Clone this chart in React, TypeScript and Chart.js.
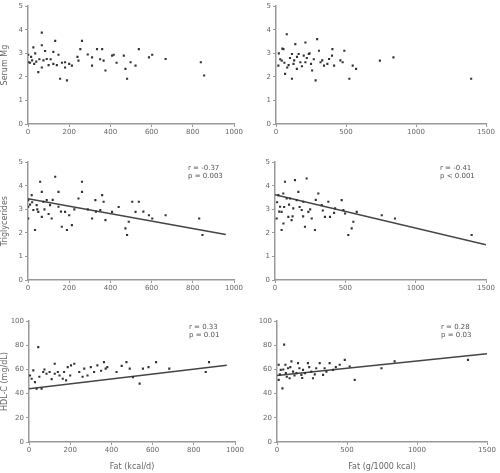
import React, { useEffect, useRef } from "react";
import { Chart, registerables } from "chart.js";
Chart.register(...registerables);

// ---------- data ----------
const yTitleTop = "Serum Mg";
const yTitleMid = "Triglycerides";
const yTitleBot = "HDL-C (mg/dL)";
const xTitleLeft = "Fat (kcal/d)";
const xTitleRight = "Fat (g/1000 kcal)";

const tlPoints = [
  [1, 2.94], [3, 2.62], [26, 3.25], [67, 3.88], [67, 3.34], [50, 2.2], [67, 2.4], [83, 3.1], [91, 2.76], [123, 2.55],
  [132, 3.53], [123, 3.06], [148, 2.94], [156, 1.92], [180, 2.62], [189, 1.85], [180, 2.4], [213, 2.48], [245, 2.69], [254, 3.18],
  [262, 3.53], [311, 2.83], [311, 2.48], [335, 3.18], [360, 3.18], [367, 2.69], [376, 2.27], [408, 2.9], [416, 2.94], [465, 2.9],
  [473, 2.34], [481, 1.92], [498, 2.62], [522, 2.48], [538, 3.18], [587, 2.83], [603, 2.94], [668, 2.76], [839, 2.62], [855, 2.06],
  [10, 2.6], [20, 2.7], [30, 2.55], [40, 2.65], [55, 2.75], [75, 2.7], [100, 2.5], [110, 2.75], [140, 2.5], [165, 2.6],
  [200, 2.55], [240, 2.85], [290, 2.95], [350, 2.75], [430, 2.6], [15, 2.85], [35, 3.0],
];
const trPoints = [
  [17, 2.48], [41, 2.69], [65, 2.13], [77, 3.81], [53, 3.18], [114, 2.97], [114, 1.92], [125, 2.55], [138, 3.39], [149, 2.34],
  [162, 2.97], [174, 2.62], [198, 2.9], [210, 3.46], [210, 2.62], [234, 2.97], [258, 2.27], [283, 1.85], [294, 3.6], [307, 3.11],
  [318, 2.62], [343, 2.48], [367, 2.55], [379, 2.76], [403, 3.18], [415, 2.48], [476, 2.62], [488, 3.11], [524, 1.92], [548, 2.48],
  [572, 2.34], [742, 2.69], [839, 2.83], [1394, 1.92],
  [30, 2.75], [60, 2.6], [90, 2.5], [100, 2.8], [130, 2.7], [150, 2.85], [185, 2.45], [220, 2.8], [250, 2.55], [270, 2.75],
  [330, 2.7], [20, 3.0], [45, 3.2], [80, 2.4], [240, 3.0], [400, 2.9], [460, 2.7],
];
const mlPoints = [
  [1, 3.39], [1, 3.11], [1, 2.61], [18, 3.6], [26, 2.97], [34, 2.12], [42, 3.18], [50, 2.89], [59, 4.17], [67, 3.74],
  [67, 2.68], [75, 3.32], [91, 3.39], [107, 3.18], [115, 2.61], [132, 4.38], [148, 3.74], [148, 3.11], [164, 2.26], [180, 2.89],
  [189, 2.12], [213, 2.33], [245, 3.46], [262, 4.17], [262, 3.74], [311, 2.61], [327, 3.39], [351, 2.97], [360, 3.6], [367, 3.32],
  [376, 2.54], [408, 2.89], [473, 2.19], [481, 1.91], [489, 2.47], [506, 3.32], [522, 2.89], [538, 3.32], [587, 2.75], [603, 2.61],
  [668, 2.75], [831, 2.61], [847, 1.91],
  [10, 3.2], [20, 3.3], [45, 3.0], [80, 3.0], [100, 2.8], [120, 3.4], [160, 2.9], [200, 2.75], [225, 3.0], [290, 3.0],
  [330, 2.9], [440, 3.1], [560, 2.9],
];
const mrPoints = [
  [12, 2.61], [24, 3.6], [36, 3.11], [47, 2.12], [47, 2.89], [59, 3.67], [71, 4.17], [83, 3.46], [95, 2.68], [107, 3.46],
  [118, 2.54], [130, 3.04], [142, 4.24], [154, 3.39], [166, 3.74], [190, 2.97], [201, 3.32], [213, 2.26], [225, 4.31], [237, 2.89],
  [261, 2.61], [284, 2.12], [308, 3.67], [332, 3.18], [355, 2.68], [379, 3.32], [391, 2.68], [427, 3.04], [474, 3.39], [486, 2.97],
  [498, 2.82], [521, 1.91], [545, 2.19], [557, 2.47], [581, 2.89], [759, 2.75], [853, 2.61], [1398, 1.91],
  [15, 3.3], [30, 2.9], [65, 3.1], [100, 3.2], [125, 2.7], [175, 3.1], [250, 3.0], [290, 3.4], [340, 2.95], [420, 2.85],
  [200, 2.7], [60, 2.4],
];
const blPoints = [
  [13, 52.4], [21, 59.3], [29, 49.6], [37, 44.1], [45, 78.5], [61, 44.1], [69, 57.9], [85, 56.5], [100, 57.9], [125, 64.8],
  [125, 56.5], [140, 57.9], [148, 55.1], [164, 52.4], [180, 51], [188, 62], [204, 63.4], [220, 64.8], [244, 57.9], [268, 60.7],
  [284, 55.1], [316, 57.9], [332, 63.4], [364, 66.1], [372, 60.7], [380, 62], [425, 57.9], [473, 66.1], [489, 60.7], [505, 53.7],
  [537, 48.3], [553, 60.7], [617, 66.1], [681, 60.7], [858, 57.9], [874, 66.1],
  [5, 55], [50, 54], [75, 60], [110, 52], [170, 58], [200, 55], [260, 54], [300, 62], [350, 59], [450, 63], [580, 62],
];
const brPoints = [
  [12, 63.9], [12, 51.4], [27, 59.7], [39, 44.4], [51, 80.6], [63, 57], [79, 61.1], [90, 52.8], [103, 66.7], [115, 58.3],
  [139, 57], [150, 65.3], [174, 55.6], [186, 59.7], [221, 65.3], [245, 58.3], [257, 52.8], [280, 61.1], [305, 65.3], [329, 55.6],
  [353, 58.3], [376, 65.3], [400, 59.7], [448, 63.9], [484, 68], [519, 62.5], [555, 51.4], [746, 61.1], [840, 66.7], [1364, 68],
  [20, 56], [45, 60], [70, 54], [95, 62], [125, 55], [160, 61], [200, 57], [230, 62], [270, 56], [340, 61],
  [420, 62], [60, 64], [180, 53],
];

const mlFit = [[0, 3.45], [960, 1.93]];
const mrFit = [[0, 3.62], [1500, 1.5]];
const blFit = [[0, 44], [960, 63.5]];
const brFit = [[0, 55], [1500, 73]];

const mlStats = ["r = -0.37", "p = 0.003"];
const mrStats = ["r = -0.41", "p < 0.001"];
const blStats = ["r = 0.33", "p = 0.01"];
const brStats = ["r = 0.28", "p = 0.03"];

const xLeftMax = 1000, xLeftStep = 200;
const xRightMax = 1500, xRightStep = 500;
const ySmallMax = 5, ySmallStep = 1;
const yBigMax = 100, yBigStep = 20;

// ---------- layout ----------
type Panel = {
  points: number[][]; fit?: number[][]; stats?: string[];
  xMax: number; xStep: number; yMax: number; yStep: number;
  yTitle?: string; xTitle?: string;
  left: number; top: number; width: number; height: number;
  padL: number; padR: number; padT: number; yW: number; xH: number;
};

const panels: Panel[] = [
  { points: tlPoints, xMax: xLeftMax, xStep: xLeftStep, yMax: ySmallMax, yStep: ySmallStep, yTitle: yTitleTop,
    left: 0, top: 0, width: 250, height: 138, padL: 0, padR: 16, padT: 5, yW: 28, xH: 14 },
  { points: trPoints, xMax: xRightMax, xStep: xRightStep, yMax: ySmallMax, yStep: ySmallStep,
    left: 250, top: 0, width: 250, height: 138, padL: 0, padR: 14, padT: 5, yW: 26, xH: 14 },
  { points: mlPoints, fit: mlFit, stats: mlStats, xMax: xLeftMax, xStep: xLeftStep, yMax: ySmallMax, yStep: ySmallStep, yTitle: yTitleMid,
    left: 0, top: 156, width: 250, height: 138, padL: 0, padR: 16, padT: 6, yW: 28, xH: 14 },
  { points: mrPoints, fit: mrFit, stats: mrStats, xMax: xRightMax, xStep: xRightStep, yMax: ySmallMax, yStep: ySmallStep,
    left: 250, top: 156, width: 250, height: 138, padL: 0, padR: 14, padT: 6, yW: 25, xH: 14 },
  { points: blPoints, fit: blFit, stats: blStats, xMax: xLeftMax, xStep: xLeftStep, yMax: yBigMax, yStep: yBigStep, yTitle: yTitleBot, xTitle: xTitleLeft,
    left: 0, top: 315, width: 250, height: 157, padL: 0, padR: 15, padT: 6, yW: 29, xH: 30 },
  { points: brPoints, fit: brFit, stats: brStats, xMax: xRightMax, xStep: xRightStep, yMax: yBigMax, yStep: yBigStep, xTitle: xTitleRight,
    left: 250, top: 315, width: 250, height: 157, padL: 0, padR: 13, padT: 6, yW: 27, xH: 30 },
];

const FONT = "'DejaVu Sans', sans-serif";
const AXIS = "#999";
const TEXT = "#666";

const statsPlugin = {
  id: "stats",
  afterDraw(chart: any) {
    const lines: string[] | undefined = chart.options.plugins.stats?.lines;
    if (!lines) return;
    const { ctx, chartArea } = chart;
    ctx.save();
    ctx.font = `7px ${FONT}`;
    ctx.fillStyle = "#555";
    ctx.textBaseline = "top";
    ctx.textAlign = "left";
    lines.forEach((l, i) => ctx.fillText(l, chartArea.right - 46, chartArea.top + 2 + i * 8));
    ctx.restore();
  },
};

const plainTick = (v: any) => String(v);

function makeChart(canvas: HTMLCanvasElement, p: Panel) {
  const datasets: any[] = [
    {
      type: "scatter",
      data: p.points.map(([x, y]) => ({ x, y })),
      pointStyle: "rect",
      pointRadius: 1.5,
      backgroundColor: "#333",
      borderColor: "#333",
      borderWidth: 0,
    },
  ];
  if (p.fit) {
    datasets.push({
      type: "line",
      data: p.fit.map(([x, y]) => ({ x, y })),
      borderColor: "#444",
      borderWidth: 1.5,
      pointRadius: 0,
      fill: false,
    });
  }
  return new Chart(canvas, {
    type: "scatter",
    data: { datasets },
    plugins: [statsPlugin],
    options: {
      animation: false,
      responsive: false,
      maintainAspectRatio: false,
      layout: { padding: { left: p.padL, right: p.padR, top: p.padT, bottom: 0 } },
      plugins: {
        legend: { display: false },
        tooltip: { enabled: false },
        stats: { lines: p.stats },
      } as any,
      scales: {
        x: {
          type: "linear",
          min: 0,
          max: p.xMax,
          afterFit: (s: any) => { s.height = p.xH; },
          ticks: { stepSize: p.xStep, color: TEXT, font: { size: 7, family: FONT }, padding: 1, maxRotation: 0, callback: plainTick },
          grid: { drawOnChartArea: false, drawTicks: true, tickLength: 3, color: AXIS },
          border: { color: AXIS, width: 1.5 },
          title: { display: !!p.xTitle, text: p.xTitle || "", color: TEXT, font: { size: 8, family: FONT }, padding: { top: 3, bottom: 0 } },
        },
        y: {
          type: "linear",
          min: 0,
          max: p.yMax,
          afterFit: (s: any) => { s.width = p.yW; },
          ticks: { stepSize: p.yStep, color: TEXT, font: { size: 7, family: FONT }, padding: 2, callback: plainTick },
          grid: { drawOnChartArea: false, drawTicks: true, tickLength: 3, color: AXIS },
          border: { color: AXIS, width: 1.5 },
          title: { display: !!p.yTitle, text: p.yTitle || "", color: TEXT, font: { size: 8, family: FONT }, padding: { top: 0, bottom: 0 } },
        },
      },
    } as any,
  });
}

export default function App() {
  const refs = useRef<(HTMLCanvasElement | null)[]>([]);
  useEffect(() => {
    const charts = panels.map((p, i) => makeChart(refs.current[i] as HTMLCanvasElement, p));
    return () => charts.forEach((c) => c.destroy());
  }, []);
  return (
    <div style={{ position: "fixed", left: 0, top: 0, width: 500, height: 473, background: "#fff" }}>
      {panels.map((p, i) => (
        <div key={i} style={{ position: "absolute", left: p.left, top: p.top, width: p.width, height: p.height }}>
          <canvas ref={(el) => { refs.current[i] = el; }} width={p.width} height={p.height} style={{ width: p.width, height: p.height, display: "block" }} />
        </div>
      ))}
    </div>
  );
}
